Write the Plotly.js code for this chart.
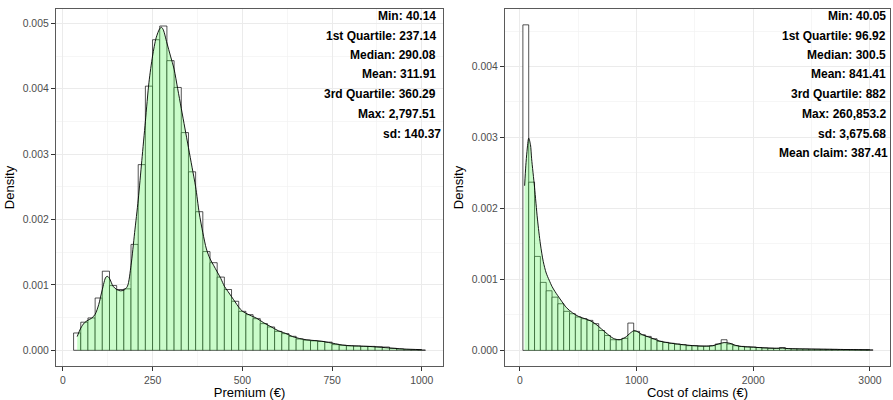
<!DOCTYPE html>
<html>
<head>
<meta charset="utf-8">
<script src="https://cdn.plot.ly/plotly-3.0.1.min.js"></script>
<style>html,body{margin:0;padding:0;background:#fff;}</style>
</head>
<body>
<div id="chart" style="width:893px;height:400px;"></div>
<script>
// ---- Left panel: Premium ----
const premiumBinCenters = [40,60,80,100,120,140,160,180,200,220,240,260,280,300,320,340,360,380,400,420,440,460,480,500,520,540,560,580,600,620,640,660,680,700,720,740,760,780,800,820,840,860,880,900,920,940,960,980,1000];
const premiumBinDensity = [0.000265,0.00043,0.000495,0.0008,0.00121,0.00099,0.00093,0.00094,0.00162,0.00284,0.00404,0.00475,0.00496,0.00443,0.00402,0.00333,0.00273,0.00212,0.00151,0.00134,0.00112,0.00093,0.00075,0.000596,0.000545,0.000484,0.000408,0.000357,0.00029,0.000255,0.000214,0.000173,0.000155,0.000145,0.000135,0.000125,0.000087,0.000077,0.00007,0.000066,0.00006,0.00006,0.000055,0.00005,0.00003,0.00002,0.00001,0.000008,0.000005];
const premiumKdeX = [40,50,60,70,80,90,100,110,120,125,130,140,150,160,170,180,190,200,210,220,230,240,250,260,270,275,280,290,300,310,320,330,340,350,360,370,380,390,400,410,420,430,440,450,460,470,480,490,500,520,540,560,580,600,620,640,660,680,700,720,740,760,780,800,850,900,950,1000];
const premiumKdeY = [0.00021,0.00034,0.00042,0.00046,0.00049,0.00055,0.0007,0.00093,0.00112,0.00113,0.0011,0.00098,0.00093,0.00091,0.00092,0.00098,0.0013,0.0018,0.0023,0.0029,0.0035,0.0041,0.0045,0.00478,0.00492,0.00494,0.0049,0.0047,0.0045,0.0043,0.0040,0.0037,0.0034,0.0031,0.0028,0.0025,0.0021,0.0018,0.00155,0.0014,0.0013,0.0012,0.0011,0.00098,0.0009,0.00082,0.00074,0.00066,0.0006,0.00054,0.00049,0.00042,0.00036,0.0003,0.00026,0.00021,0.00018,0.00016,0.00015,0.00014,0.00012,0.0001,0.00008,0.00007,0.00006,0.00004,0.00002,0.00001];
const premiumStats = ["Min: 40.14","1st Quartile: 237.14","Median: 290.08","Mean: 311.91","3rd Quartile: 360.29","Max: 2,797.51","sd: 140.37"];

// ---- Right panel: Cost of claims ----
const claimBinCenters = [50,100,150,200,250,300,350,400,450,500,550,600,650,700,750,800,850,900,950,1000,1050,1100,1150,1200,1250,1300,1350,1400,1450,1500,1550,1600,1650,1700,1750,1800,1850,1900,1950,2000,2050,2100,2150,2200,2250,2300,2350,2400,2450,2500,2550,2600,2650,2700,2750,2800,2850,2900,2950,3000];
const claimBinDensity = [0.004587,0.00237,0.001324,0.000958,0.00084,0.00075,0.000657,0.00055,0.000516,0.00047,0.000446,0.000423,0.000376,0.00028,0.00021,0.00015,0.00015,0.00017,0.000385,0.000268,0.00022,0.000197,0.000164,0.000127,0.000113,0.0001,0.000089,0.00008,0.000066,0.000066,0.00006,0.00006,0.000066,0.00009,0.00015,0.00009,0.000066,0.000056,0.00005,0.000047,0.00004,0.000035,0.00003,0.000028,0.00004,0.000025,0.000022,0.00002,0.00002,0.000018,0.000017,0.000016,0.000015,0.000014,0.000013,0.000012,0.000012,0.000011,0.00001,0.00001];
const claimKdeX = [40,50,60,75,90,100,125,150,175,200,225,250,275,300,350,400,450,500,550,600,650,700,750,800,850,900,950,980,1000,1050,1100,1150,1200,1300,1400,1500,1600,1650,1700,1750,1800,1850,1900,2000,2100,2200,2250,2300,2500,2700,2900,3000];
const claimKdeY = [0.00232,0.0026,0.0028,0.00299,0.0029,0.0027,0.0023,0.00185,0.0015,0.00125,0.00109,0.00099,0.0009,0.00083,0.00071,0.0006,0.00053,0.00048,0.00045,0.00042,0.00037,0.0003,0.00023,0.00017,0.00015,0.00018,0.00025,0.00028,0.00027,0.00022,0.00019,0.00016,0.00013,0.0001,0.00008,0.000065,0.00006,0.000065,0.00009,0.00011,0.0001,0.00007,0.000055,0.000045,0.000035,0.00003,0.000032,0.000025,0.000018,0.000014,0.00001,0.000008];
const claimStats = ["Min: 40.05","1st Quartile: 96.92","Median: 300.5","Mean: 841.41","3rd Quartile: 882","Max: 260,853.2","sd: 3,675.68","Mean claim: 387.41"];

const premiumBinWidth = 20;
const claimBinWidth = 50;

const barStyle = {color:'#ffffff', line:{color:'rgba(0,0,0,0.85)', width:0.8}};
const kdeFill = 'rgba(90,245,90,0.32)';
const kdeLine = {color:'#000000', width:0.9, shape:'spline', smoothing:0.8};

const traces = [
  {type:'bar', x:premiumBinCenters, y:premiumBinDensity, width:premiumBinWidth, marker:barStyle, xaxis:'x', yaxis:'y', hoverinfo:'skip'},
  {type:'scatter', mode:'lines', x:premiumKdeX, y:premiumKdeY, fill:'tozeroy', fillcolor:kdeFill, line:kdeLine, xaxis:'x', yaxis:'y', hoverinfo:'skip'},
  {type:'bar', x:claimBinCenters, y:claimBinDensity, width:claimBinWidth, marker:barStyle, xaxis:'x2', yaxis:'y2', hoverinfo:'skip'},
  {type:'scatter', mode:'lines', x:claimKdeX, y:claimKdeY, fill:'tozeroy', fillcolor:kdeFill, line:kdeLine, xaxis:'x2', yaxis:'y2', hoverinfo:'skip'}
];

const tickFont = {family:'Liberation Sans, Arial, sans-serif', size:10.4, color:'#4d4d4d'};
const titleFont = {family:'Liberation Sans, Arial, sans-serif', size:13, color:'#000000'};
const common = {
  showline:true, mirror:true, linecolor:'#5a5a5a', linewidth:1.2,
  ticks:'outside', ticklen:4, tickcolor:'#333333', tickwidth:1,
  tickfont:tickFont, showgrid:true, gridcolor:'#ebebeb', gridwidth:1,
  zeroline:false, automargin:false
};

const layout = {
  width:893, height:400,
  margin:{l:56, r:3, t:9, b:34},
  paper_bgcolor:'#ffffff', plot_bgcolor:'#ffffff',
  showlegend:false, bargap:0,
  font:{family:'Liberation Sans, Arial, sans-serif'},
  xaxis: Object.assign({}, common, {domain:[0,0.4640], anchor:'y', range:[-19,1059], dtick:250, tick0:0,
    minor:{showgrid:true, dtick:125, tick0:0, gridcolor:'#f2f2f2', gridwidth:0.7},
    title:{text:'Premium (€)', font:titleFont, standoff:4}}),
  yaxis: Object.assign({}, common, {domain:[0,1], anchor:'x', range:[-0.00024,0.00522], dtick:0.001, tick0:0, tickformat:'.3f',
    minor:{showgrid:true, dtick:0.0005, tick0:0, gridcolor:'#f2f2f2', gridwidth:0.7},
    title:{text:'Density', font:titleFont, standoff:5}}),
  xaxis2: Object.assign({}, common, {domain:[0.5384,1], anchor:'y2', range:[-128,3172], dtick:1000, tick0:0,
    minor:{showgrid:true, dtick:500, tick0:0, gridcolor:'#f2f2f2', gridwidth:0.7},
    title:{text:'Cost of claims (€)', font:titleFont, standoff:4}}),
  yaxis2: Object.assign({}, common, {domain:[0,1], anchor:'x2', range:[-0.00022,0.00481], dtick:0.001, tick0:0, tickformat:'.3f',
    minor:{showgrid:true, dtick:0.0005, tick0:0, gridcolor:'#f2f2f2', gridwidth:0.7},
    title:{text:'Density', font:titleFont, standoff:5}}),
  annotations:[]
};

const annFont = {family:'Liberation Sans, Arial, sans-serif', size:12, color:'#000000'};
const leftX = [0.988,0.988,0.988,0.988,0.988,0.986,1.0];
const rightX = [0.996,0.996,0.996,0.994,0.996,0.996,0.996,1.001];
const rowY = [0.9812,0.9252,0.8711,0.8179,0.7611,0.7059,0.6499,0.5958];
premiumStats.forEach((t,i)=>{
  layout.annotations.push({text:'<b>'+t+'</b>', xref:'x domain', yref:'y domain', x:leftX[i], y:rowY[i], xanchor:'right', yanchor:'middle', showarrow:false, font:annFont});
});
claimStats.forEach((t,i)=>{
  layout.annotations.push({text:'<b>'+t+'</b>', xref:'x2 domain', yref:'y2 domain', x:rightX[i], y:rowY[i], xanchor:'right', yanchor:'middle', showarrow:false, font:annFont});
});

Plotly.newPlot('chart', traces, layout, {staticPlot:true, displayModeBar:false});
</script>
</body>
</html>
